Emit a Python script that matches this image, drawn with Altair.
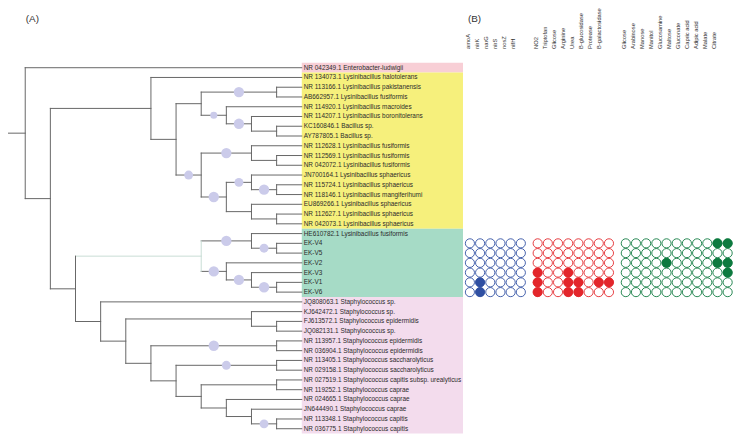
import altair as alt
import pandas as pd

# ---------------- data ----------------
labels = [
    "NR 042349.1 Enterobacter-ludwigii",
    "NR 134073.1 Lysinibacillus halotolerans",
    "NR 113166.1 Lysinibacillus pakistanensis",
    "AB662957.1 Lysinibacillus fusiformis",
    "NR 114920.1 Lysinibacillus macroides",
    "NR 114207.1 Lysinibacillus boronitolerans",
    "KC160846.1 Bacillus sp.",
    "AY787805.1 Bacillus sp.",
    "NR 112628.1 Lysinibacillus fusiformis",
    "NR 112569.1 Lysinibacillus fusiformis",
    "NR 042072.1 Lysinibacillus fusiformis",
    "JN700164.1 Lysinibacillus sphaericus",
    "NR 115724.1 Lysinibacillus sphaericus",
    "NR 118146.1 Lysinibacillus mangiferihumi",
    "EU869266.1 Lysinibacillus sphaericus",
    "NR 112627.1 Lysinibacillus sphaericus",
    "NR 042073.1 Lysinibacillus sphaericus",
    "HE610782.1 Lysinibacillus fusiformis",
    "EK-V4",
    "EK-V5",
    "EK-V2",
    "EK-V3",
    "EK-V1",
    "EK-V6",
    "JQ808063.1 Staphylococcus sp.",
    "KJ642472.1 Staphylococcus sp.",
    "FJ613572.1 Staphylococcus epidermidis",
    "JQ082131.1 Staphylococcus sp.",
    "NR 113957.1 Staphylococcus epidermidis",
    "NR 036904.1 Staphylococcus epidermidis",
    "NR 113405.1 Staphylococcus saccharolyticus",
    "NR 029158.1 Staphylococcus saccharolyticus",
    "NR 027519.1 Staphylococcus capitis subsp. urealyticus",
    "NR 119252.1 Staphylococcus caprae",
    "NR 024665.1 Staphylococcus caprae",
    "JN644490.1 Staphylococcus caprae",
    "NR 113348.1 Staphylococcus capitis",
    "NR 036775.1 Staphylococcus capitis",
]

# clade shading: first / last leaf index
clade_first = [0, 1, 17, 24]
clade_last = [0, 16, 23, 37]

# tree nodes: (node depth, support, children[, highlighted stem]); ints are leaf indices
lys_a = (8, 0, [(11, 99, [2, 3]), (9, 70, [4, (10, 99, [5, (11, 0, [6, 7])])])])
lys_b = (8, 85, [(10, 99, [8, (11, 0, [9, 10])]),
                 (9, 99, [(10, 85, [11, (11, 99, [12, 13])]),
                          (10, 0, [14, (11, 0, [15, 16])])])])
lys = (6, 0, [1, (7, 0, [lys_a, lys_b])])
iso = (8, 0, [(10, 99, [17, (11, 85, [18, 19])]),
              (9, 99, [20, (10, 99, [21, (11, 99, [22, 23])])])], True)
sta_c = (8, 0, [(11, 0, [32, 33]), (9, 0, [34, (10, 0, [35, (11, 85, [36, 37])])])])
sta_b = (6, 0, [(11, 99, [28, 29]), (7, 0, [(11, 85, [30, 31]), sta_c])])
sta = (4, 0, [24, (5, 0, [(10, 0, [25, (11, 0, [26, 27])]), sta_b])])
tree = (1, 0, [0, (2, 0, [lys, (3, 0, [iso, sta])])])
LEAF_DEPTH = 12

strains = ["EK-V4", "EK-V5", "EK-V2", "EK-V3", "EK-V1", "EK-V6"]
strain_rows = [18, 19, 20, 21, 22, 23]

genes = ["amoA", "nirK", "narG", "nirS", "nosZ", "nifH"]
gene_vals = [
    [0, 0, 0, 0, 0, 0],
    [0, 0, 0, 0, 0, 0],
    [0, 0, 0, 0, 0, 0],
    [0, 0, 0, 0, 0, 0],
    [0, 1, 0, 0, 0, 0],
    [0, 1, 0, 0, 0, 0],
]
enzymes = ["NO2", "Triptofan", "Glicose", "Arginine", "Urea", "B-glucosidase",
           "Protease", "B-galactosidase"]
enzyme_vals = [
    [0, 0, 0, 0, 0, 0, 0, 0],
    [0, 0, 0, 0, 0, 0, 0, 0],
    [0, 0, 0, 0, 0, 0, 0, 0],
    [1, 0, 0, 1, 0, 0, 0, 0],
    [1, 0, 0, 1, 1, 0, 1, 1],
    [1, 0, 0, 1, 1, 0, 0, 0],
]
carbons = ["Glicose", "Arabinose", "Manose", "Manitol", "Glucosamine", "Maltose",
           "Gluconate", "Capric acid", "Adipic acid", "Malate", "Citrate"]
carbon_vals = [
    [0, 0, 0, 0, 0, 0, 0, 0, 0, 1, 1],
    [0, 0, 0, 0, 0, 0, 0, 0, 0, 0, 0],
    [0, 0, 0, 0, 1, 0, 0, 0, 0, 1, 1],
    [0, 0, 0, 0, 0, 0, 0, 0, 0, 0, 1],
    [0, 0, 0, 0, 0, 0, 0, 0, 0, 0, 0],
    [0, 0, 0, 0, 0, 0, 0, 0, 0, 0, 0],
]

# ---------------- styles ----------------
FONT = "Liberation Sans"
BRANCH = "#666666"
STEM = "#c8ddd5"
BUBBLE = "#cbcbea"
CLADE_FILL = ["#f8cfd6", "#f6f07c", "#a6dbc6", "#f3dced"]
GROUP_COL = ["#2f4fa2", "#e3262b", "#0d7a3f"]
W, H = 734, 429
GROUP_GAP = 0.65
LABEL_STEP = 0.885

# ---------------- build tables ----------------
edges, bubbles = [], []


def walk(node, parent_depth, stem=False):
    if isinstance(node, int):
        edges.append(dict(x=parent_depth, x2=LEAF_DEPTH, y=node, y2=node,
                          c=STEM if stem else BRANCH))
        return node
    depth, support, children = node[0], node[1], node[2]
    hl = len(node) > 3
    ys = [walk(ch, depth) for ch in children]
    y = (ys[0] + ys[-1]) / 2
    edges.append(dict(x=depth, x2=depth, y=ys[0], y2=ys[-1], c=STEM if hl else BRANCH))
    edges.append(dict(x=parent_depth, x2=depth, y=y, y2=y, c=STEM if hl else BRANCH))
    if support:
        bubbles.append(dict(x=(parent_depth + depth) / 2, y=y, support=support))
    return y


walk(tree, 0)
edges_df = pd.DataFrame(edges)
bubbles_df = pd.DataFrame(bubbles)

leaves_df = pd.DataFrame({"name": labels, "y": list(range(len(labels))),
                          "x": [LEAF_DEPTH] * len(labels)})
clades_df = pd.DataFrame({"x": [LEAF_DEPTH] * 4,
                          "y": [f - 0.5 for f in clade_first],
                          "y2": [l + 0.5 for l in clade_last],
                          "c": CLADE_FILL})

cells, heads = [], []
start = 0.0
for g, (cols, vals) in enumerate([(genes, gene_vals), (enzymes, enzyme_vals),
                                  (carbons, carbon_vals)]):
    for j, name in enumerate(cols):
        pos = start + j
        heads.append(dict(name=name, lpos=start - 0.2 + j * LABEL_STEP))
        for r, row in enumerate(strain_rows):
            cells.append(dict(pos=pos, row=row, v=vals[r][j], c=GROUP_COL[g]))
    start += len(cols) + GROUP_GAP
cells_df = pd.DataFrame(cells)
heads_df = pd.DataFrame(heads)

# ---------------- scales ----------------
tree_x = alt.Scale(domain=[0, LEAF_DEPTH], range=[-8, 297], nice=False, zero=False)
row_y = alt.Scale(domain=[0, 37], range=[58, 423], nice=False, zero=False)
last_pos = cells_df["pos"].max()
mat_x = alt.Scale(domain=[0, last_pos], range=[467, 467 + last_pos * 10.3],
                  nice=False, zero=False)

# ---------------- layers ----------------
clade_layer = alt.Chart(clades_df).mark_rect().encode(
    x=alt.X("x:Q", scale=tree_x, axis=None),
    x2=alt.value(460),
    y=alt.Y("y:Q", scale=row_y, axis=None),
    y2="y2:Q",
    color=alt.Color("c:N", scale=None),
)

edge_layer = alt.Chart(edges_df).mark_rule(strokeWidth=1, strokeCap="square").encode(
    x=alt.X("x:Q", scale=tree_x, axis=None),
    x2="x2:Q",
    y=alt.Y("y:Q", scale=row_y, axis=None),
    y2="y2:Q",
    color=alt.Color("c:N", scale=None),
)

bubble_layer = alt.Chart(bubbles_df).mark_circle(opacity=1, color=BUBBLE).encode(
    x=alt.X("x:Q", scale=tree_x, axis=None),
    y=alt.Y("y:Q", scale=row_y, axis=None),
    size=alt.Size("support:Q", scale=alt.Scale(domain=[70, 99], range=[50, 110]),
                  legend=None),
)

leaf_layer = alt.Chart(leaves_df).mark_text(
    align="left", baseline="middle", dx=2, fontSize=6.5, font=FONT, color="#2b2b2b"
).encode(
    x=alt.X("x:Q", scale=tree_x, axis=None),
    y=alt.Y("y:Q", scale=row_y, axis=None),
    text="name:N",
)

open_layer = alt.Chart(cells_df).mark_point(
    shape="circle", filled=False, size=85, strokeWidth=0.9, opacity=1
).encode(
    x=alt.X("pos:Q", scale=mat_x, axis=None),
    y=alt.Y("row:Q", scale=row_y, axis=None),
    color=alt.Color("c:N", scale=None),
)

filled_layer = alt.Chart(cells_df[cells_df["v"] == 1]).mark_circle(
    size=95, opacity=1
).encode(
    x=alt.X("pos:Q", scale=mat_x, axis=None),
    y=alt.Y("row:Q", scale=row_y, axis=None),
    color=alt.Color("c:N", scale=None),
)

head_layer = alt.Chart(heads_df).mark_text(
    angle=270, align="left", baseline="middle", fontSize=5.8, font=FONT, color="#333333"
).encode(
    x=alt.X("lpos:Q", scale=mat_x, axis=None),
    y=alt.value(39),
    text="name:N",
)

panel_a = alt.Chart(pd.DataFrame({"t": ["(A)"]})).mark_text(
    align="left", baseline="middle", fontSize=10, font=FONT, color="#333333"
).encode(text="t:N", x=alt.value(18), y=alt.value(9))
panel_b = alt.Chart(pd.DataFrame({"t": ["(B)"]})).mark_text(
    align="left", baseline="middle", fontSize=10, font=FONT, color="#333333"
).encode(text="t:N", x=alt.value(465), y=alt.value(9))

chart = alt.layer(
    clade_layer, edge_layer, bubble_layer, leaf_layer,
    open_layer, filled_layer, head_layer, panel_a, panel_b
).resolve_scale(x="independent").properties(
    width=W, height=H, padding=0,
    autosize=alt.AutoSizeParams(type="none"),
    background="white",
).configure_view(stroke=None)

chart.save("out.html", embed_options={"renderer": "svg", "actions": False})
